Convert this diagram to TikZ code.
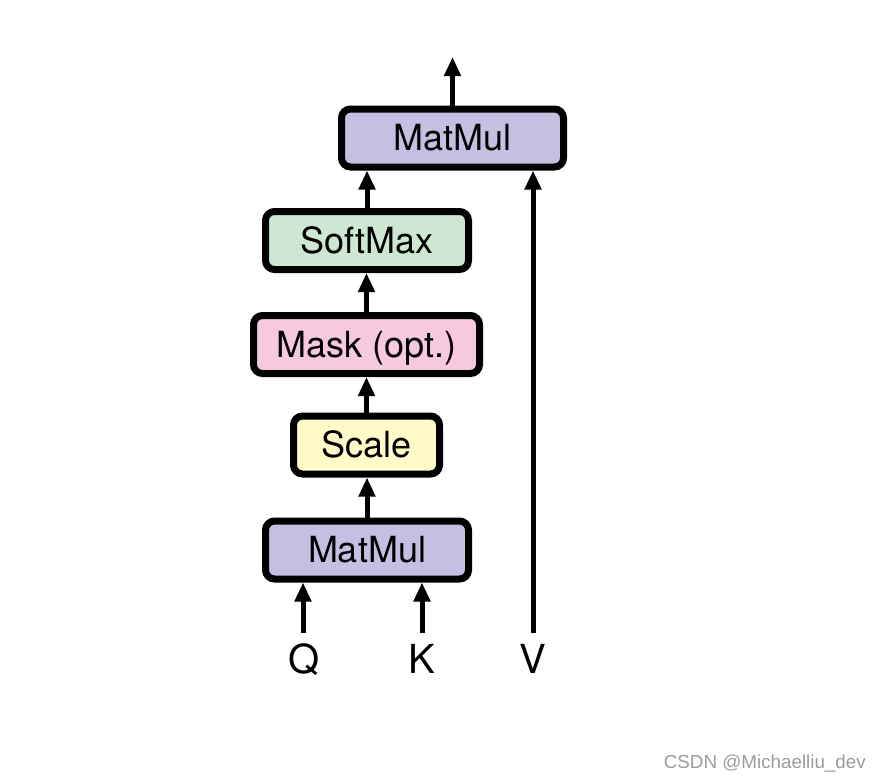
\documentclass[tikz,border=0pt]{standalone}
\usepackage{fontspec}
\setmainfont{TeX Gyre Heros}
\newfontfamily\wmfont{Liberation Sans}
\usetikzlibrary{arrows.meta}
\definecolor{mmcol}{RGB}{197,192,226}
\definecolor{smcol}{RGB}{206,231,210}
\definecolor{mkcol}{RGB}{247,201,223}
\definecolor{sccol}{RGB}{255,250,199}
\definecolor{wmcol}{RGB}{155,155,155}
\begin{document}
\begin{tikzpicture}[x=1pt,y=-1pt,
  opbox/.style={draw=black, line width=7pt, rounded corners=9pt, inner sep=0pt,
    minimum height=58pt, text height=25.5pt, text depth=0pt,
    font=\fontsize{36}{40}\selectfont},
  arr/.style={line width=5pt, -{Triangle[length=19pt,width=16pt]}},
  lbl/.style={inner sep=0pt, text height=29pt, text depth=0pt, font=\fontsize{40}{44}\selectfont}]
\useasboundingbox (0,0) rectangle (880,780);
\node[opbox, fill=mmcol, minimum width=222pt] (mm2) at (452.5,138) {MatMul};
\node[opbox, fill=smcol, minimum width=203pt] (sm) at (367,240.5) {SoftMax};
\node[opbox, fill=mkcol, minimum width=226pt] (mk) at (366.5,344.5) {Mask (opt.)};
\node[opbox, fill=sccol, minimum width=146pt] (sc) at (366.5,445) {Scale};
\node[opbox, fill=mmcol, minimum width=203pt] (mm1) at (367,550) {MatMul};
\node[lbl] (Q) at (304,658.5) {Q};
\node[lbl] (K) at (422,658.5) {K};
\node[lbl] (V) at (533,658.5) {V};
\coordinate (qs) at (303,633);
\coordinate (ks) at (422,633);
\coordinate (vs) at (533,633);
\coordinate (out) at (452.5,57);
\draw[arr] (qs) -- (qs |- mm1.south);
\draw[arr] (ks) -- (ks |- mm1.south);
\draw[arr] (vs) -- (vs |- mm2.south);
\draw[arr] (mm1.north) -- (mm1.north |- sc.south);
\draw[arr] (sc.north) -- (sc.north |- mk.south);
\draw[arr] (mk.north) -- (mk.north |- sm.south);
\draw[arr] (sm.north) -- (sm.north |- mm2.south);
\draw[arr] (mm2.north) -- (out);
\node[anchor=base east, inner sep=0pt, text=wmcol, font=\wmfont\fontsize{18.8}{20}\selectfont] (wm) at (866,768) {CSDN @Michaelliu\_dev};
\end{tikzpicture}
\end{document}
